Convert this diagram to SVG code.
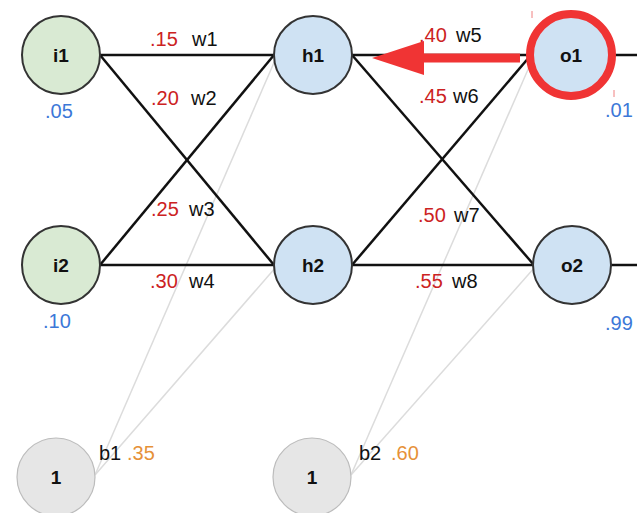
<svg xmlns="http://www.w3.org/2000/svg" width="637" height="513" viewBox="0 0 637 513">
<defs>
<style>
.edge{stroke:#111;stroke-width:2.5;fill:none}
.bias-edge{stroke:#dcdcdc;stroke-width:1.5;fill:none}
.in{fill:#d9ead3;stroke:#333;stroke-width:2}
.hid{fill:#cfe2f3;stroke:#333;stroke-width:2}
.b{fill:#e6e6e6;stroke:#bcbcbc;stroke-width:1.2}
text{font-family:"Liberation Sans",Arial,sans-serif;font-size:20px}
.lbl{font-weight:bold;text-anchor:middle;fill:#111;font-size:19px}
.wv{fill:#cc2222}
.wn{fill:#111}
.val{fill:#3c78d8}
.bv{fill:#e69138}
</style>
</defs>
<rect width="637" height="513" fill="#fff"/>
<g id="connectors">
<line class="bias-edge" x1="95" y1="475" x2="276" y2="58"/>
<line class="bias-edge" x1="95" y1="475" x2="276" y2="267"/>
<line class="bias-edge" x1="351" y1="475" x2="533" y2="58"/>
<line class="bias-edge" x1="351" y1="475" x2="535" y2="267"/>
<line class="edge" x1="100" y1="55" x2="274" y2="55"/>
<line class="edge" x1="100" y1="55" x2="274" y2="265"/>
<line class="edge" x1="100" y1="265" x2="274" y2="55"/>
<line class="edge" x1="100" y1="265" x2="274" y2="265"/>
<line class="edge" x1="352" y1="55" x2="531" y2="55"/>
<line class="edge" x1="352" y1="55" x2="534" y2="265"/>
<line class="edge" x1="352" y1="265" x2="531" y2="55"/>
<line class="edge" x1="352" y1="265" x2="534" y2="265"/>
<line class="edge" x1="610" y1="55" x2="637" y2="55"/>
<line class="edge" x1="611" y1="265" x2="637" y2="265"/>
</g>
<g id="i1"><circle class="in" cx="61" cy="55" r="39"/><text class="lbl" x="61" y="62">i1</text></g>
<g id="i2"><circle class="in" cx="61" cy="265" r="39"/><text class="lbl" x="61" y="272">i2</text></g>
<g id="h1"><circle class="hid" cx="313" cy="55" r="39"/><text class="lbl" x="313" y="62">h1</text></g>
<g id="h2"><circle class="hid" cx="313" cy="265" r="39"/><text class="lbl" x="313" y="272">h2</text></g>
<g id="o1"><circle class="hid" cx="571" cy="55" r="39"/><text class="lbl" x="571" y="62">o1</text></g>
<g id="o2"><circle class="hid" cx="572" cy="265" r="39"/><text class="lbl" x="572" y="272">o2</text></g>
<g id="b1node"><circle class="b" cx="56" cy="477" r="39"/><text class="lbl" x="56" y="484">1</text></g>
<g id="b2node"><circle class="b" cx="312" cy="477" r="39"/><text class="lbl" x="312" y="484">1</text></g>
<g id="labels">
<text class="wv" x="150" y="46">.15</text><text class="wn" x="192" y="46">w1</text>
<text class="wv" x="151" y="105">.20</text><text class="wn" x="191" y="105">w2</text>
<text class="wv" x="151" y="216">.25</text><text class="wn" x="189" y="216">w3</text>
<text class="wv" x="150" y="288">.30</text><text class="wn" x="189" y="288">w4</text>
<text class="wv" x="419" y="42">.40</text><text class="wn" x="456" y="42">w5</text>
<text class="wv" x="419" y="103">.45</text><text class="wn" x="453" y="103">w6</text>
<text class="wv" x="418" y="222">.50</text><text class="wn" x="454" y="222">w7</text>
<text class="wv" x="415" y="288">.55</text><text class="wn" x="452" y="288">w8</text>
<text class="val" x="45" y="118">.05</text>
<text class="val" x="43" y="328">.10</text>
<text class="val" x="605" y="117">.01</text>
<text class="val" x="605" y="330">.99</text>
<text class="wn" x="99" y="460">b1</text><text class="bv" x="127" y="460">.35</text>
<text class="wn" x="359" y="460">b2</text><text class="bv" x="391" y="460">.60</text>
</g>
<g id="highlight">
<circle cx="571" cy="55" r="41" fill="none" stroke="#f03434" stroke-width="8"/>
<rect x="418" y="53.5" width="102" height="9" fill="#f03434"/>
<polygon points="372,58 424,41 424,75" fill="#f03434"/>
<line x1="532" y1="11" x2="532" y2="18" stroke="#f08080" stroke-width="1"/>
<line x1="614" y1="90" x2="614" y2="97" stroke="#f08080" stroke-width="1"/>
</g>
</svg>
